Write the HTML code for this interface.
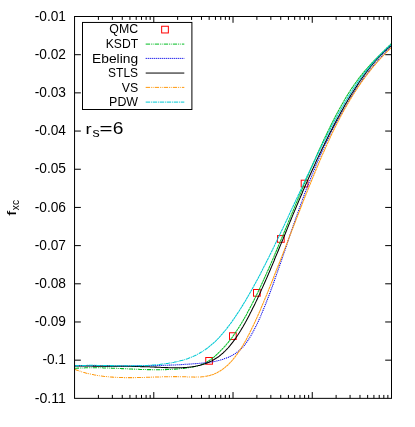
<!DOCTYPE html>
<html><head><meta charset="utf-8"><title>fxc rs=6</title>
<style>
html,body{margin:0;padding:0;background:#fff;}
svg{display:block;will-change:transform;}
text{font-family:"Liberation Sans",sans-serif;fill:#000;}
</style></head><body>
<svg width="415" height="427" viewBox="0 0 415 427">
<rect x="0" y="0" width="415" height="427" fill="#fff"/>
<g stroke="#000" stroke-width="1" fill="none">
<path d="M74.55 54.69h6.3M391.5 54.69h-6.3"/>
<path d="M74.55 92.87h6.3M391.5 92.87h-6.3"/>
<path d="M74.55 131.06h6.3M391.5 131.06h-6.3"/>
<path d="M74.55 169.24h6.3M391.5 169.24h-6.3"/>
<path d="M74.55 207.43h6.3M391.5 207.43h-6.3"/>
<path d="M74.55 245.61h6.3M391.5 245.61h-6.3"/>
<path d="M74.55 283.80h6.3M391.5 283.80h-6.3"/>
<path d="M74.55 321.98h6.3M391.5 321.98h-6.3"/>
<path d="M74.55 360.17h6.3M391.5 360.17h-6.3"/>
<path d="M98.40 398.35v-3.4M98.40 16.5v3.4"/>
<path d="M112.36 398.35v-3.4M112.36 16.5v3.4"/>
<path d="M122.26 398.35v-3.4M122.26 16.5v3.4"/>
<path d="M129.93 398.35v-3.4M129.93 16.5v3.4"/>
<path d="M136.21 398.35v-3.4M136.21 16.5v3.4"/>
<path d="M141.51 398.35v-3.4M141.51 16.5v3.4"/>
<path d="M146.11 398.35v-3.4M146.11 16.5v3.4"/>
<path d="M150.16 398.35v-3.4M150.16 16.5v3.4"/>
<path d="M153.79 398.35v-6.3M153.79 16.5v6.3"/>
<path d="M177.64 398.35v-3.4M177.64 16.5v3.4"/>
<path d="M191.59 398.35v-3.4M191.59 16.5v3.4"/>
<path d="M201.49 398.35v-3.4M201.49 16.5v3.4"/>
<path d="M209.17 398.35v-3.4M209.17 16.5v3.4"/>
<path d="M215.45 398.35v-3.4M215.45 16.5v3.4"/>
<path d="M220.75 398.35v-3.4M220.75 16.5v3.4"/>
<path d="M225.35 398.35v-3.4M225.35 16.5v3.4"/>
<path d="M229.40 398.35v-3.4M229.40 16.5v3.4"/>
<path d="M233.02 398.35v-6.3M233.02 16.5v6.3"/>
<path d="M256.88 398.35v-3.4M256.88 16.5v3.4"/>
<path d="M270.83 398.35v-3.4M270.83 16.5v3.4"/>
<path d="M280.73 398.35v-3.4M280.73 16.5v3.4"/>
<path d="M288.41 398.35v-3.4M288.41 16.5v3.4"/>
<path d="M294.68 398.35v-3.4M294.68 16.5v3.4"/>
<path d="M299.99 398.35v-3.4M299.99 16.5v3.4"/>
<path d="M304.58 398.35v-3.4M304.58 16.5v3.4"/>
<path d="M308.64 398.35v-3.4M308.64 16.5v3.4"/>
<path d="M312.26 398.35v-6.3M312.26 16.5v6.3"/>
<path d="M336.12 398.35v-3.4M336.12 16.5v3.4"/>
<path d="M350.07 398.35v-3.4M350.07 16.5v3.4"/>
<path d="M359.97 398.35v-3.4M359.97 16.5v3.4"/>
<path d="M367.65 398.35v-3.4M367.65 16.5v3.4"/>
<path d="M373.92 398.35v-3.4M373.92 16.5v3.4"/>
<path d="M379.23 398.35v-3.4M379.23 16.5v3.4"/>
<path d="M383.82 398.35v-3.4M383.82 16.5v3.4"/>
<path d="M387.87 398.35v-3.4M387.87 16.5v3.4"/>
</g>
<text x="66.0" y="21" font-size="14" text-anchor="end" textLength="31.3" lengthAdjust="spacingAndGlyphs">-0.01</text>
<text x="66.0" y="59" font-size="14" text-anchor="end" textLength="31.3" lengthAdjust="spacingAndGlyphs">-0.02</text>
<text x="66.0" y="97" font-size="14" text-anchor="end" textLength="31.3" lengthAdjust="spacingAndGlyphs">-0.03</text>
<text x="66.0" y="135" font-size="14" text-anchor="end" textLength="31.3" lengthAdjust="spacingAndGlyphs">-0.04</text>
<text x="66.0" y="173" font-size="14" text-anchor="end" textLength="31.3" lengthAdjust="spacingAndGlyphs">-0.05</text>
<text x="66.0" y="212" font-size="14" text-anchor="end" textLength="31.3" lengthAdjust="spacingAndGlyphs">-0.06</text>
<text x="66.0" y="250" font-size="14" text-anchor="end" textLength="31.3" lengthAdjust="spacingAndGlyphs">-0.07</text>
<text x="66.0" y="288" font-size="14" text-anchor="end" textLength="31.3" lengthAdjust="spacingAndGlyphs">-0.08</text>
<text x="66.0" y="326" font-size="14" text-anchor="end" textLength="31.3" lengthAdjust="spacingAndGlyphs">-0.09</text>
<text x="66.0" y="364" font-size="14" text-anchor="end" textLength="23.6" lengthAdjust="spacingAndGlyphs">-0.1</text>
<text x="66.0" y="403" font-size="14" text-anchor="end" textLength="31.3" lengthAdjust="spacingAndGlyphs">-0.11</text>
<g transform="translate(15.9 215.7) rotate(-90)"><text x="0" y="0" font-size="13.2" textLength="5.0" lengthAdjust="spacingAndGlyphs">f</text><text x="5.5" y="3.1" font-size="11.7" textLength="10.2" lengthAdjust="spacingAndGlyphs">xc</text></g>
<g fill="none" stroke="#ff0000" stroke-width="1">
<rect x="205.75" y="357.50" width="6.7" height="6.7"/>
<rect x="229.50" y="332.75" width="6.7" height="6.7"/>
<rect x="253.50" y="289.50" width="6.7" height="6.7"/>
<rect x="277.50" y="235.60" width="6.7" height="6.7"/>
<rect x="301.20" y="180.20" width="6.7" height="6.7"/>
</g>
<clipPath id="c"><rect x="74.55" y="16.5" width="316.95" height="381.85"/></clipPath>
<g fill="none" stroke-width="1.05" clip-path="url(#c)">
<path d="M74.7 368.3 L75.5 368.3 L76.3 368.2 L77.1 368.2 L77.9 368.1 L78.7 368.1 L79.5 368.0 L80.3 368.0 L81.1 368.0 L81.8 367.9 L82.6 367.9 L83.4 367.9 L84.2 367.9 L85.0 367.8 L85.8 367.8 L86.6 367.8 L87.4 367.8 L88.2 367.8 L89.0 367.8 L89.8 367.7 L90.6 367.7 L91.4 367.7 L92.2 367.7 L93.0 367.7 L93.8 367.7 L94.6 367.7 L95.4 367.7 L96.1 367.7 L96.9 367.8 L97.7 367.8 L98.5 367.8 L99.3 367.8 L100.1 367.8 L100.9 367.8 L101.7 367.8 L102.5 367.8 L103.3 367.9 L104.1 367.9 L104.9 367.9 L105.7 367.9 L106.5 368.0 L107.3 368.0 L108.1 368.0 L108.9 368.0 L109.6 368.1 L110.4 368.1 L111.2 368.1 L112.0 368.2 L112.8 368.2 L113.6 368.2 L114.4 368.2 L115.2 368.3 L116.0 368.3 L116.8 368.3 L117.6 368.4 L118.4 368.4 L119.2 368.5 L120.0 368.5 L120.8 368.5 L121.6 368.6 L122.4 368.6 L123.1 368.6 L123.9 368.7 L124.7 368.7 L125.5 368.7 L126.3 368.8 L127.1 368.8 L127.9 368.9 L128.7 368.9 L129.5 368.9 L130.3 369.0 L131.1 369.0 L131.9 369.0 L132.7 369.1 L133.5 369.1 L134.3 369.1 L135.1 369.2 L135.9 369.2 L136.7 369.2 L137.4 369.3 L138.2 369.3 L139.0 369.3 L139.8 369.4 L140.6 369.4 L141.4 369.4 L142.2 369.4 L143.0 369.5 L143.8 369.5 L144.6 369.5 L145.4 369.5 L146.2 369.6 L147.0 369.6 L147.8 369.6 L148.6 369.6 L149.4 369.6 L150.2 369.6 L150.9 369.6 L151.7 369.7 L152.5 369.7 L153.3 369.7 L154.1 369.7 L154.9 369.7 L155.7 369.7 L156.5 369.7 L157.3 369.7 L158.1 369.7 L158.9 369.7 L159.7 369.7 L160.5 369.7 L161.3 369.7 L162.1 369.7 L162.9 369.6 L163.7 369.6 L164.4 369.6 L165.2 369.6 L166.0 369.6 L166.8 369.5 L167.6 369.5 L168.4 369.5 L169.2 369.4 L170.0 369.4 L170.8 369.4 L171.6 369.3 L172.4 369.3 L173.2 369.2 L174.0 369.2 L174.8 369.1 L175.6 369.1 L176.4 369.0 L177.2 369.0 L178.0 368.9 L178.7 368.8 L179.5 368.8 L180.3 368.7 L181.1 368.6 L181.9 368.5 L182.7 368.5 L183.5 368.4 L184.3 368.3 L185.1 368.2 L185.9 368.1 L186.7 368.0 L187.5 367.9 L188.3 367.8 L189.1 367.7 L189.9 367.5 L190.7 367.4 L191.5 367.3 L192.2 367.1 L193.0 367.0 L193.8 366.8 L194.6 366.6 L195.4 366.4 L196.2 366.2 L197.0 366.0 L197.8 365.8 L198.6 365.5 L199.4 365.3 L200.2 365.0 L201.0 364.7 L201.8 364.4 L202.6 364.1 L203.4 363.7 L204.2 363.4 L205.0 363.0 L205.7 362.6" stroke="#00bc22" stroke-dasharray="4.3 0.9 0.9 0.9 0.9 1.14"/>
<path d="M205.7 362.6 L206.5 362.2 L207.3 361.7 L208.1 361.2 L208.9 360.8 L209.7 360.2 L210.5 359.7 L211.3 359.1 L212.1 358.5 L212.9 357.9 L213.7 357.3 L214.5 356.6 L215.3 355.9 L216.1 355.2 L216.9 354.5 L217.7 353.7 L218.5 352.9 L219.3 352.1 L220.0 351.3 L220.8 350.5 L221.6 349.7 L222.4 348.8 L223.2 348.0 L224.0 347.1 L224.8 346.3 L225.6 345.4 L226.4 344.5 L227.2 343.5 L228.0 342.6 L228.8 341.6 L229.6 340.7 L230.4 339.6 L231.2 338.6 L232.0 337.6 L232.8 336.5 L233.5 335.4 L234.3 334.3 L235.1 333.1 L235.9 331.9 L236.7 330.8 L237.5 329.5 L238.3 328.3 L239.1 327.1 L239.9 325.8 L240.7 324.5 L241.5 323.2 L242.3 321.8 L243.1 320.5 L243.9 319.1 L244.7 317.7 L245.5 316.3 L246.3 314.9 L247.0 313.5 L247.8 312.0 L248.6 310.5 L249.4 309.0 L250.2 307.5 L251.0 306.0 L251.8 304.5 L252.6 302.9 L253.4 301.3 L254.2 299.7 L255.0 298.1 L255.8 296.5 L256.6 294.9 L257.4 293.3 L258.2 291.6 L259.0 289.9 L259.8 288.3 L260.6 286.6 L261.3 284.9 L262.1 283.2 L262.9 281.4 L263.7 279.7 L264.5 277.9 L265.3 276.2 L266.1 274.4 L266.9 272.6 L267.7 270.8 L268.5 269.1 L269.3 267.2 L270.1 265.4 L270.9 263.6 L271.7 261.8 L272.5 259.9 L273.3 258.1 L274.1 256.3 L274.8 254.4 L275.6 252.5 L276.4 250.7 L277.2 248.8 L278.0 246.9 L278.8 245.0 L279.6 243.1 L280.4 241.3 L281.2 239.4 L282.0 237.5 L282.8 235.6 L283.6 233.6 L284.4 231.7 L285.2 229.8 L286.0 227.9 L286.8 226.0 L287.6 224.1 L288.3 222.2 L289.1 220.3 L289.9 218.3 L290.7 216.4 L291.5 214.5 L292.3 212.6 L293.1 210.7 L293.9 208.8 L294.7 206.8 L295.5 204.9 L296.3 203.0 L297.1 201.1 L297.9 199.2 L298.7 197.3 L299.5 195.4 L300.3 193.5 L301.1 191.6 L301.9 189.7 L302.6 187.8 L303.4 186.0 L304.2 184.1 L305.0 182.2 L305.8 180.4 L306.6 178.5 L307.4 176.6 L308.2 174.8 L309.0 172.9 L309.8 171.1 L310.6 169.3 L311.4 167.5 L312.2 165.6 L313.0 163.8 L313.8 162.0 L314.6 160.2 L315.4 158.4 L316.1 156.6 L316.9 154.9 L317.7 153.1 L318.5 151.4 L319.3 149.6 L320.1 147.9 L320.9 146.1 L321.7 144.4 L322.5 142.7 L323.3 141.0 L324.1 139.3 L324.9 137.6 L325.7 135.9 L326.5 134.3 L327.3 132.6 L328.1 131.0 L328.9 129.4 L329.6 127.8 L330.4 126.2 L331.2 124.6 L332.0 123.0 L332.8 121.4 L333.6 119.9 L334.4 118.3 L335.2 116.8 L336.0 115.3 L336.8 113.8 L337.6 112.3 L338.4 110.8 L339.2 109.3 L340.0 107.9 L340.8 106.5 L341.6 105.1 L342.4 103.7 L343.2 102.3 L343.9 100.9 L344.7 99.5 L345.5 98.2 L346.3 96.9 L347.1 95.6 L347.9 94.3 L348.7 93.0 L349.5 91.8 L350.3 90.5 L351.1 89.3 L351.9 88.1 L352.7 86.9 L353.5 85.8 L354.3 84.6 L355.1 83.5 L355.9 82.4 L356.7 81.3 L357.4 80.2 L358.2 79.2 L359.0 78.1 L359.8 77.1 L360.6 76.1 L361.4 75.1 L362.2 74.1 L363.0 73.1 L363.8 72.2 L364.6 71.2 L365.4 70.3 L366.2 69.4 L367.0 68.5 L367.8 67.6 L368.6 66.7 L369.4 65.8 L370.2 64.9 L370.9 64.1 L371.7 63.2 L372.5 62.4 L373.3 61.6 L374.1 60.7 L374.9 59.9 L375.7 59.1 L376.5 58.3 L377.3 57.5 L378.1 56.7 L378.9 55.9 L379.7 55.1 L380.5 54.3 L381.3 53.5 L382.1 52.7 L382.9 52.0 L383.7 51.2 L384.5 50.4 L385.2 49.6 L386.0 48.8 L386.8 48.0 L387.6 47.3 L388.4 46.5 L389.2 45.7 L390.0 44.9 L390.8 44.1 L391.6 43.3" stroke="#00bc22" stroke-dasharray="2.6 0.35"/>
<path d="M74.7 365.8 L75.5 365.8 L76.3 365.8 L77.1 365.8 L77.9 365.8 L78.7 365.8 L79.5 365.8 L80.3 365.8 L81.1 365.8 L81.8 365.8 L82.6 365.8 L83.4 365.8 L84.2 365.8 L85.0 365.8 L85.8 365.8 L86.6 365.8 L87.4 365.8 L88.2 365.8 L89.0 365.8 L89.8 365.8 L90.6 365.8 L91.4 365.8 L92.2 365.8 L93.0 365.8 L93.8 365.8 L94.6 365.8 L95.4 365.8 L96.1 365.8 L96.9 365.8 L97.7 365.8 L98.5 365.8 L99.3 365.8 L100.1 365.8 L100.9 365.8 L101.7 365.8 L102.5 365.8 L103.3 365.8 L104.1 365.8 L104.9 365.9 L105.7 365.9 L106.5 365.9 L107.3 365.9 L108.1 365.9 L108.9 365.9 L109.6 365.9 L110.4 365.9 L111.2 365.9 L112.0 365.9 L112.8 365.9 L113.6 365.9 L114.4 365.9 L115.2 365.9 L116.0 365.9 L116.8 365.9 L117.6 365.9 L118.4 365.9 L119.2 365.9 L120.0 365.9 L120.8 365.9 L121.6 365.9 L122.4 365.9 L123.1 365.9 L123.9 365.9 L124.7 365.9 L125.5 365.9 L126.3 365.9 L127.1 365.9 L127.9 365.9 L128.7 365.9 L129.5 365.9 L130.3 365.9 L131.1 365.9 L131.9 365.9 L132.7 365.9 L133.5 365.9 L134.3 365.9 L135.1 365.9 L135.9 365.8 L136.7 365.8 L137.4 365.8 L138.2 365.8 L139.0 365.8 L139.8 365.8 L140.6 365.8 L141.4 365.8 L142.2 365.8 L143.0 365.8 L143.8 365.8 L144.6 365.8 L145.4 365.7 L146.2 365.7 L147.0 365.7 L147.8 365.7 L148.6 365.7 L149.4 365.7 L150.2 365.7 L150.9 365.7 L151.7 365.6 L152.5 365.6 L153.3 365.6 L154.1 365.6 L154.9 365.6 L155.7 365.6 L156.5 365.5 L157.3 365.5 L158.1 365.5 L158.9 365.5 L159.7 365.5 L160.5 365.4 L161.3 365.4 L162.1 365.4 L162.9 365.4 L163.7 365.3 L164.4 365.3 L165.2 365.3 L166.0 365.3 L166.8 365.2 L167.6 365.2 L168.4 365.2 L169.2 365.1 L170.0 365.1 L170.8 365.1 L171.6 365.0 L172.4 365.0 L173.2 365.0 L174.0 364.9 L174.8 364.9 L175.6 364.9 L176.4 364.8 L177.2 364.8 L178.0 364.7 L178.7 364.7 L179.5 364.7 L180.3 364.6 L181.1 364.6 L181.9 364.5 L182.7 364.5 L183.5 364.4 L184.3 364.4 L185.1 364.3 L185.9 364.3 L186.7 364.2 L187.5 364.2 L188.3 364.1 L189.1 364.1 L189.9 364.0 L190.7 364.0 L191.5 363.9 L192.2 363.9 L193.0 363.8 L193.8 363.7 L194.6 363.7 L195.4 363.6 L196.2 363.6 L197.0 363.5 L197.8 363.4 L198.6 363.4 L199.4 363.3 L200.2 363.2 L201.0 363.2 L201.8 363.1 L202.6 363.0 L203.4 362.9 L204.2 362.9 L205.0 362.8 L205.7 362.7 L206.5 362.6 L207.3 362.5 L208.1 362.4 L208.9 362.3 L209.7 362.2 L210.5 362.1 L211.3 362.0 L212.1 361.8 L212.9 361.7 L213.7 361.6 L214.5 361.4 L215.3 361.3 L216.1 361.1 L216.9 360.9 L217.7 360.7 L218.5 360.5 L219.3 360.3 L220.0 360.1 L220.8 359.9 L221.6 359.7 L222.4 359.4 L223.2 359.2 L224.0 358.9 L224.8 358.6 L225.6 358.3 L226.4 358.0 L227.2 357.7 L228.0 357.4 L228.8 357.0 L229.6 356.7 L230.4 356.3 L231.2 355.9 L232.0 355.5 L232.8 355.0 L233.5 354.6 L234.3 354.1 L235.1 353.6 L235.9 353.1 L236.7 352.5 L237.5 351.9 L238.3 351.3 L239.1 350.6 L239.9 350.0 L240.7 349.2 L241.5 348.4 L242.3 347.6 L243.1 346.8 L243.9 345.9 L244.7 344.9 L245.5 343.9 L246.3 342.8 L247.0 341.7 L247.8 340.6 L248.6 339.4 L249.4 338.1 L250.2 336.8 L251.0 335.5 L251.8 334.1 L252.6 332.7 L253.4 331.2 L254.2 329.7 L255.0 328.1 L255.8 326.6 L256.6 324.9 L257.4 323.3 L258.2 321.6 L259.0 319.8 L259.8 318.1 L260.6 316.3 L261.3 314.4 L262.1 312.6 L262.9 310.7 L263.7 308.8 L264.5 306.8 L265.3 304.8 L266.1 302.8 L266.9 300.8 L267.7 298.7 L268.5 296.7 L269.3 294.6 L270.1 292.4 L270.9 290.3 L271.7 288.1 L272.5 286.0 L273.3 283.8 L274.1 281.6 L274.8 279.3 L275.6 277.1 L276.4 274.8 L277.2 272.6 L278.0 270.3 L278.8 268.0 L279.6 265.7 L280.4 263.4 L281.2 261.1 L282.0 258.8 L282.8 256.4 L283.6 254.1 L284.4 251.8 L285.2 249.4 L286.0 247.1 L286.8 244.7 L287.6 242.4 L288.3 240.1 L289.1 237.7 L289.9 235.4 L290.7 233.0 L291.5 230.7 L292.3 228.4 L293.1 226.1 L293.9 223.8 L294.7 221.5 L295.5 219.2 L296.3 216.9 L297.1 214.7 L297.9 212.4 L298.7 210.2 L299.5 207.9 L300.3 205.7 L301.1 203.5 L301.9 201.4 L302.6 199.2 L303.4 197.1 L304.2 194.9 L305.0 192.8 L305.8 190.7 L306.6 188.7 L307.4 186.6 L308.2 184.6 L309.0 182.6 L309.8 180.6 L310.6 178.6 L311.4 176.6 L312.2 174.6 L313.0 172.7 L313.8 170.8 L314.6 168.9 L315.4 167.0 L316.1 165.1 L316.9 163.2 L317.7 161.4 L318.5 159.5 L319.3 157.7 L320.1 155.9 L320.9 154.1 L321.7 152.4 L322.5 150.6 L323.3 148.9 L324.1 147.2 L324.9 145.4 L325.7 143.7 L326.5 142.1 L327.3 140.4 L328.1 138.7 L328.9 137.1 L329.6 135.5 L330.4 133.9 L331.2 132.3 L332.0 130.7 L332.8 129.1 L333.6 127.6 L334.4 126.0 L335.2 124.5 L336.0 123.0 L336.8 121.5 L337.6 120.0 L338.4 118.5 L339.2 117.1 L340.0 115.6 L340.8 114.2 L341.6 112.8 L342.4 111.4 L343.2 110.0 L343.9 108.6 L344.7 107.2 L345.5 105.9 L346.3 104.6 L347.1 103.2 L347.9 101.9 L348.7 100.6 L349.5 99.3 L350.3 98.0 L351.1 96.8 L351.9 95.5 L352.7 94.3 L353.5 93.0 L354.3 91.8 L355.1 90.6 L355.9 89.4 L356.7 88.2 L357.4 87.0 L358.2 85.9 L359.0 84.7 L359.8 83.6 L360.6 82.4 L361.4 81.3 L362.2 80.2 L363.0 79.1 L363.8 78.0 L364.6 76.9 L365.4 75.9 L366.2 74.8 L367.0 73.8 L367.8 72.7 L368.6 71.7 L369.4 70.7 L370.2 69.7 L370.9 68.7 L371.7 67.7 L372.5 66.7 L373.3 65.8 L374.1 64.8 L374.9 63.9 L375.7 62.9 L376.5 62.0 L377.3 61.1 L378.1 60.2 L378.9 59.3 L379.7 58.4 L380.5 57.5 L381.3 56.6 L382.1 55.8 L382.9 54.9 L383.7 54.0 L384.5 53.2 L385.2 52.4 L386.0 51.6 L386.8 50.7 L387.6 49.9 L388.4 49.1 L389.2 48.3 L390.0 47.6 L390.8 46.8 L391.6 46.0" stroke="#0000e8" stroke-dasharray="1.15 0.85"/>
<path d="M74.7 365.9 L75.5 365.9 L76.3 365.9 L77.1 365.9 L77.9 365.9 L78.7 365.9 L79.5 366.0 L80.3 366.0 L81.1 366.0 L81.8 366.0 L82.6 366.0 L83.4 366.0 L84.2 366.0 L85.0 366.0 L85.8 366.0 L86.6 366.0 L87.4 366.0 L88.2 366.0 L89.0 366.0 L89.8 366.0 L90.6 366.0 L91.4 366.0 L92.2 366.0 L93.0 366.1 L93.8 366.1 L94.6 366.1 L95.4 366.1 L96.1 366.1 L96.9 366.1 L97.7 366.1 L98.5 366.1 L99.3 366.1 L100.1 366.1 L100.9 366.1 L101.7 366.1 L102.5 366.1 L103.3 366.1 L104.1 366.1 L104.9 366.1 L105.7 366.1 L106.5 366.1 L107.3 366.1 L108.1 366.1 L108.9 366.1 L109.6 366.1 L110.4 366.1 L111.2 366.1 L112.0 366.1 L112.8 366.1 L113.6 366.1 L114.4 366.2 L115.2 366.2 L116.0 366.2 L116.8 366.2 L117.6 366.2 L118.4 366.2 L119.2 366.2 L120.0 366.2 L120.8 366.2 L121.6 366.2 L122.4 366.2 L123.1 366.2 L123.9 366.2 L124.7 366.2 L125.5 366.3 L126.3 366.3 L127.1 366.3 L127.9 366.3 L128.7 366.3 L129.5 366.3 L130.3 366.3 L131.1 366.3 L131.9 366.4 L132.7 366.4 L133.5 366.4 L134.3 366.4 L135.1 366.4 L135.9 366.4 L136.7 366.5 L137.4 366.5 L138.2 366.5 L139.0 366.5 L139.8 366.5 L140.6 366.6 L141.4 366.6 L142.2 366.6 L143.0 366.6 L143.8 366.6 L144.6 366.7 L145.4 366.7 L146.2 366.7 L147.0 366.7 L147.8 366.8 L148.6 366.8 L149.4 366.8 L150.2 366.9 L150.9 366.9 L151.7 366.9 L152.5 367.0 L153.3 367.0 L154.1 367.0 L154.9 367.1 L155.7 367.1 L156.5 367.1 L157.3 367.2 L158.1 367.2 L158.9 367.3 L159.7 367.3 L160.5 367.3 L161.3 367.4 L162.1 367.4 L162.9 367.4 L163.7 367.5 L164.4 367.5 L165.2 367.6 L166.0 367.6 L166.8 367.6 L167.6 367.6 L168.4 367.7 L169.2 367.7 L170.0 367.7 L170.8 367.7 L171.6 367.8 L172.4 367.8 L173.2 367.8 L174.0 367.8 L174.8 367.8 L175.6 367.8 L176.4 367.8 L177.2 367.8 L178.0 367.8 L178.7 367.8 L179.5 367.8 L180.3 367.8 L181.1 367.7 L181.9 367.7 L182.7 367.7 L183.5 367.6 L184.3 367.6 L185.1 367.5 L185.9 367.5 L186.7 367.4 L187.5 367.3 L188.3 367.3 L189.1 367.2 L189.9 367.1 L190.7 367.0 L191.5 366.9 L192.2 366.8 L193.0 366.7 L193.8 366.5 L194.6 366.4 L195.4 366.3 L196.2 366.1 L197.0 365.9 L197.8 365.8 L198.6 365.6 L199.4 365.4 L200.2 365.2 L201.0 365.0 L201.8 364.8 L202.6 364.6 L203.4 364.3 L204.2 364.1 L205.0 363.8 L205.7 363.5 L206.5 363.2 L207.3 362.9 L208.1 362.6 L208.9 362.2 L209.7 361.8 L210.5 361.5 L211.3 361.1 L212.1 360.7 L212.9 360.2 L213.7 359.8 L214.5 359.3 L215.3 358.8 L216.1 358.3 L216.9 357.8 L217.7 357.2 L218.5 356.7 L219.3 356.1 L220.0 355.5 L220.8 354.8 L221.6 354.2 L222.4 353.5 L223.2 352.8 L224.0 352.0 L224.8 351.3 L225.6 350.5 L226.4 349.7 L227.2 348.8 L228.0 348.0 L228.8 347.1 L229.6 346.2 L230.4 345.2 L231.2 344.2 L232.0 343.2 L232.8 342.2 L233.5 341.1 L234.3 340.1 L235.1 338.9 L235.9 337.8 L236.7 336.6 L237.5 335.5 L238.3 334.2 L239.1 333.0 L239.9 331.7 L240.7 330.5 L241.5 329.1 L242.3 327.8 L243.1 326.5 L243.9 325.1 L244.7 323.7 L245.5 322.3 L246.3 320.8 L247.0 319.4 L247.8 317.9 L248.6 316.4 L249.4 314.9 L250.2 313.3 L251.0 311.8 L251.8 310.2 L252.6 308.6 L253.4 307.0 L254.2 305.4 L255.0 303.8 L255.8 302.1 L256.6 300.4 L257.4 298.8 L258.2 297.1 L259.0 295.4 L259.8 293.6 L260.6 291.9 L261.3 290.1 L262.1 288.4 L262.9 286.6 L263.7 284.8 L264.5 283.0 L265.3 281.2 L266.1 279.4 L266.9 277.6 L267.7 275.7 L268.5 273.9 L269.3 272.0 L270.1 270.2 L270.9 268.3 L271.7 266.4 L272.5 264.5 L273.3 262.6 L274.1 260.7 L274.8 258.8 L275.6 256.9 L276.4 255.0 L277.2 253.1 L278.0 251.2 L278.8 249.2 L279.6 247.3 L280.4 245.4 L281.2 243.4 L282.0 241.5 L282.8 239.6 L283.6 237.6 L284.4 235.7 L285.2 233.8 L286.0 231.8 L286.8 229.9 L287.6 227.9 L288.3 226.0 L289.1 224.1 L289.9 222.1 L290.7 220.2 L291.5 218.3 L292.3 216.4 L293.1 214.4 L293.9 212.5 L294.7 210.6 L295.5 208.7 L296.3 206.8 L297.1 204.9 L297.9 203.0 L298.7 201.1 L299.5 199.3 L300.3 197.4 L301.1 195.5 L301.9 193.7 L302.6 191.8 L303.4 190.0 L304.2 188.2 L305.0 186.3 L305.8 184.5 L306.6 182.7 L307.4 180.9 L308.2 179.1 L309.0 177.3 L309.8 175.5 L310.6 173.7 L311.4 172.0 L312.2 170.2 L313.0 168.5 L313.8 166.7 L314.6 165.0 L315.4 163.2 L316.1 161.5 L316.9 159.8 L317.7 158.1 L318.5 156.4 L319.3 154.7 L320.1 153.0 L320.9 151.4 L321.7 149.7 L322.5 148.0 L323.3 146.4 L324.1 144.8 L324.9 143.1 L325.7 141.5 L326.5 139.9 L327.3 138.3 L328.1 136.7 L328.9 135.1 L329.6 133.6 L330.4 132.0 L331.2 130.4 L332.0 128.9 L332.8 127.3 L333.6 125.8 L334.4 124.3 L335.2 122.8 L336.0 121.3 L336.8 119.8 L337.6 118.3 L338.4 116.9 L339.2 115.4 L340.0 114.0 L340.8 112.5 L341.6 111.1 L342.4 109.7 L343.2 108.3 L343.9 106.9 L344.7 105.5 L345.5 104.1 L346.3 102.8 L347.1 101.4 L347.9 100.1 L348.7 98.7 L349.5 97.4 L350.3 96.1 L351.1 94.8 L351.9 93.5 L352.7 92.3 L353.5 91.0 L354.3 89.7 L355.1 88.5 L355.9 87.3 L356.7 86.1 L357.4 84.9 L358.2 83.7 L359.0 82.5 L359.8 81.3 L360.6 80.2 L361.4 79.0 L362.2 77.9 L363.0 76.8 L363.8 75.6 L364.6 74.6 L365.4 73.5 L366.2 72.4 L367.0 71.3 L367.8 70.3 L368.6 69.3 L369.4 68.2 L370.2 67.2 L370.9 66.2 L371.7 65.3 L372.5 64.3 L373.3 63.3 L374.1 62.4 L374.9 61.5 L375.7 60.6 L376.5 59.7 L377.3 58.8 L378.1 57.9 L378.9 57.1 L379.7 56.2 L380.5 55.4 L381.3 54.6 L382.1 53.8 L382.9 53.0 L383.7 52.2 L384.5 51.4 L385.2 50.7 L386.0 50.0 L386.8 49.2 L387.6 48.5 L388.4 47.8 L389.2 47.2 L390.0 46.5 L390.8 45.9 L391.6 45.2" stroke="#000000"/>
<path d="M74.7 369.3 L75.5 369.6 L76.3 369.9 L77.1 370.2 L77.9 370.5 L78.7 370.8 L79.5 371.0 L80.3 371.3 L81.1 371.6 L81.8 371.8 L82.6 372.0 L83.4 372.3 L84.2 372.5 L85.0 372.7 L85.8 373.0 L86.6 373.2 L87.4 373.4 L88.2 373.6 L89.0 373.8 L89.8 373.9 L90.6 374.1 L91.4 374.3 L92.2 374.5 L93.0 374.6 L93.8 374.8 L94.6 374.9 L95.4 375.1 L96.1 375.2 L96.9 375.4 L97.7 375.5 L98.5 375.6 L99.3 375.7 L100.1 375.9 L100.9 376.0 L101.7 376.1 L102.5 376.2 L103.3 376.3 L104.1 376.4 L104.9 376.5 L105.7 376.5 L106.5 376.6 L107.3 376.7 L108.1 376.8 L108.9 376.8 L109.6 376.9 L110.4 377.0 L111.2 377.0 L112.0 377.1 L112.8 377.1 L113.6 377.2 L114.4 377.2 L115.2 377.3 L116.0 377.3 L116.8 377.3 L117.6 377.4 L118.4 377.4 L119.2 377.4 L120.0 377.5 L120.8 377.5 L121.6 377.5 L122.4 377.5 L123.1 377.5 L123.9 377.6 L124.7 377.6 L125.5 377.6 L126.3 377.6 L127.1 377.6 L127.9 377.6 L128.7 377.6 L129.5 377.6 L130.3 377.6 L131.1 377.6 L131.9 377.6 L132.7 377.6 L133.5 377.6 L134.3 377.6 L135.1 377.6 L135.9 377.5 L136.7 377.5 L137.4 377.5 L138.2 377.5 L139.0 377.5 L139.8 377.5 L140.6 377.5 L141.4 377.4 L142.2 377.4 L143.0 377.4 L143.8 377.4 L144.6 377.4 L145.4 377.3 L146.2 377.3 L147.0 377.3 L147.8 377.3 L148.6 377.2 L149.4 377.2 L150.2 377.2 L150.9 377.2 L151.7 377.1 L152.5 377.1 L153.3 377.1 L154.1 377.1 L154.9 377.0 L155.7 377.0 L156.5 377.0 L157.3 377.0 L158.1 376.9 L158.9 376.9 L159.7 376.9 L160.5 376.9 L161.3 376.9 L162.1 376.8 L162.9 376.8 L163.7 376.8 L164.4 376.8 L165.2 376.8 L166.0 376.7 L166.8 376.7 L167.6 376.7 L168.4 376.7 L169.2 376.7 L170.0 376.7 L170.8 376.7 L171.6 376.7 L172.4 376.7 L173.2 376.6 L174.0 376.6 L174.8 376.6 L175.6 376.6 L176.4 376.6 L177.2 376.6 L178.0 376.6 L178.7 376.7 L179.5 376.7 L180.3 376.7 L181.1 376.7 L181.9 376.7 L182.7 376.7 L183.5 376.7 L184.3 376.8 L185.1 376.8 L185.9 376.8 L186.7 376.8 L187.5 376.9 L188.3 376.9 L189.1 376.9 L189.9 376.9 L190.7 377.0 L191.5 377.0 L192.2 377.0 L193.0 377.0 L193.8 377.0 L194.6 377.1 L195.4 377.1 L196.2 377.1 L197.0 377.0 L197.8 377.0 L198.6 377.0 L199.4 377.0 L200.2 376.9 L201.0 376.9 L201.8 376.8 L202.6 376.7 L203.4 376.7 L204.2 376.6 L205.0 376.4 L205.7 376.3" stroke="#ff9a10" stroke-dasharray="4.3 0.9 0.9 0.9 0.9 1.14"/>
<path d="M205.7 376.3 L206.5 376.2 L207.3 376.0 L208.1 375.8 L208.9 375.7 L209.7 375.5 L210.5 375.2 L211.3 375.0 L212.1 374.7 L212.9 374.5 L213.7 374.2 L214.5 373.8 L215.3 373.5 L216.1 373.1 L216.9 372.7 L217.7 372.3 L218.5 371.9 L219.3 371.4 L220.0 371.0 L220.8 370.5 L221.6 369.9 L222.4 369.4 L223.2 368.8 L224.0 368.2 L224.8 367.6 L225.6 366.9 L226.4 366.2 L227.2 365.5 L228.0 364.8 L228.8 364.0 L229.6 363.2 L230.4 362.4 L231.2 361.5 L232.0 360.7 L232.8 359.7 L233.5 358.8 L234.3 357.8 L235.1 356.8 L235.9 355.8 L236.7 354.7 L237.5 353.6 L238.3 352.5 L239.1 351.3 L239.9 350.2 L240.7 348.9 L241.5 347.7 L242.3 346.4 L243.1 345.1 L243.9 343.7 L244.7 342.3 L245.5 340.9 L246.3 339.5 L247.0 338.0 L247.8 336.5 L248.6 335.0 L249.4 333.4 L250.2 331.8 L251.0 330.2 L251.8 328.6 L252.6 327.0 L253.4 325.3 L254.2 323.6 L255.0 321.9 L255.8 320.1 L256.6 318.4 L257.4 316.6 L258.2 314.8 L259.0 313.0 L259.8 311.2 L260.6 309.4 L261.3 307.5 L262.1 305.6 L262.9 303.8 L263.7 301.9 L264.5 299.9 L265.3 298.0 L266.1 296.1 L266.9 294.2 L267.7 292.2 L268.5 290.2 L269.3 288.3 L270.1 286.3 L270.9 284.3 L271.7 282.3 L272.5 280.3 L273.3 278.3 L274.1 276.3 L274.8 274.3 L275.6 272.3 L276.4 270.3 L277.2 268.3 L278.0 266.2 L278.8 264.2 L279.6 262.2 L280.4 260.1 L281.2 258.1 L282.0 256.1 L282.8 254.0 L283.6 252.0 L284.4 249.9 L285.2 247.9 L286.0 245.8 L286.8 243.8 L287.6 241.7 L288.3 239.6 L289.1 237.6 L289.9 235.5 L290.7 233.5 L291.5 231.4 L292.3 229.4 L293.1 227.3 L293.9 225.3 L294.7 223.2 L295.5 221.2 L296.3 219.1 L297.1 217.1 L297.9 215.0 L298.7 213.0 L299.5 211.0 L300.3 208.9 L301.1 206.9 L301.9 204.9 L302.6 202.9 L303.4 200.9 L304.2 198.8 L305.0 196.8 L305.8 194.8 L306.6 192.9 L307.4 190.9 L308.2 188.9 L309.0 186.9 L309.8 184.9 L310.6 183.0 L311.4 181.0 L312.2 179.1 L313.0 177.1 L313.8 175.2 L314.6 173.3 L315.4 171.4 L316.1 169.5 L316.9 167.6 L317.7 165.7 L318.5 163.8 L319.3 161.9 L320.1 160.1 L320.9 158.2 L321.7 156.4 L322.5 154.6 L323.3 152.8 L324.1 151.0 L324.9 149.2 L325.7 147.4 L326.5 145.6 L327.3 143.9 L328.1 142.1 L328.9 140.4 L329.6 138.7 L330.4 137.0 L331.2 135.3 L332.0 133.6 L332.8 132.0 L333.6 130.3 L334.4 128.7 L335.2 127.1 L336.0 125.5 L336.8 123.9 L337.6 122.4 L338.4 120.8 L339.2 119.3 L340.0 117.8 L340.8 116.3 L341.6 114.8 L342.4 113.3 L343.2 111.8 L343.9 110.4 L344.7 109.0 L345.5 107.6 L346.3 106.2 L347.1 104.8 L347.9 103.4 L348.7 102.1 L349.5 100.7 L350.3 99.4 L351.1 98.1 L351.9 96.8 L352.7 95.5 L353.5 94.2 L354.3 93.0 L355.1 91.7 L355.9 90.5 L356.7 89.3 L357.4 88.1 L358.2 86.9 L359.0 85.7 L359.8 84.6 L360.6 83.4 L361.4 82.3 L362.2 81.2 L363.0 80.1 L363.8 79.0 L364.6 77.9 L365.4 76.8 L366.2 75.7 L367.0 74.7 L367.8 73.6 L368.6 72.6 L369.4 71.6 L370.2 70.6 L370.9 69.6 L371.7 68.6 L372.5 67.6 L373.3 66.7 L374.1 65.7 L374.9 64.8 L375.7 63.9 L376.5 62.9 L377.3 62.0 L378.1 61.1 L378.9 60.3 L379.7 59.4 L380.5 58.5 L381.3 57.7 L382.1 56.8 L382.9 56.0 L383.7 55.2 L384.5 54.3 L385.2 53.5 L386.0 52.7 L386.8 51.9 L387.6 51.2 L388.4 50.4 L389.2 49.6 L390.0 48.9 L390.8 48.1 L391.6 47.4" stroke="#ff9a10" stroke-dasharray="2.6 0.35"/>
<path d="M74.7 365.7 L75.5 365.7 L76.3 365.6 L77.1 365.6 L77.9 365.6 L78.7 365.5 L79.5 365.5 L80.3 365.5 L81.1 365.5 L81.8 365.4 L82.6 365.4 L83.4 365.4 L84.2 365.4 L85.0 365.4 L85.8 365.4 L86.6 365.4 L87.4 365.3 L88.2 365.3 L89.0 365.3 L89.8 365.3 L90.6 365.3 L91.4 365.3 L92.2 365.3 L93.0 365.3 L93.8 365.3 L94.6 365.3 L95.4 365.3 L96.1 365.3 L96.9 365.4 L97.7 365.4 L98.5 365.4 L99.3 365.4 L100.1 365.4 L100.9 365.4 L101.7 365.4 L102.5 365.4 L103.3 365.4 L104.1 365.4 L104.9 365.5 L105.7 365.5 L106.5 365.5 L107.3 365.5 L108.1 365.5 L108.9 365.5 L109.6 365.5 L110.4 365.6 L111.2 365.6 L112.0 365.6 L112.8 365.6 L113.6 365.6 L114.4 365.6 L115.2 365.6 L116.0 365.7 L116.8 365.7 L117.6 365.7 L118.4 365.7 L119.2 365.7 L120.0 365.7 L120.8 365.7 L121.6 365.7 L122.4 365.8 L123.1 365.8 L123.9 365.8 L124.7 365.8 L125.5 365.8 L126.3 365.8 L127.1 365.8 L127.9 365.8 L128.7 365.8 L129.5 365.8 L130.3 365.8 L131.1 365.8 L131.9 365.8 L132.7 365.8 L133.5 365.8 L134.3 365.8 L135.1 365.8 L135.9 365.8 L136.7 365.7 L137.4 365.7 L138.2 365.7 L139.0 365.7 L139.8 365.7 L140.6 365.7 L141.4 365.6 L142.2 365.6 L143.0 365.6 L143.8 365.5 L144.6 365.5 L145.4 365.5 L146.2 365.4 L147.0 365.4 L147.8 365.4 L148.6 365.3 L149.4 365.3 L150.2 365.2 L150.9 365.2 L151.7 365.1 L152.5 365.1 L153.3 365.0 L154.1 364.9 L154.9 364.9 L155.7 364.8 L156.5 364.7 L157.3 364.7 L158.1 364.6 L158.9 364.5 L159.7 364.4 L160.5 364.3 L161.3 364.2 L162.1 364.1 L162.9 364.0 L163.7 363.9 L164.4 363.8 L165.2 363.7 L166.0 363.6 L166.8 363.5 L167.6 363.4 L168.4 363.3 L169.2 363.1 L170.0 363.0 L170.8 362.9 L171.6 362.7 L172.4 362.6 L173.2 362.4 L174.0 362.3 L174.8 362.1 L175.6 362.0 L176.4 361.8 L177.2 361.6 L178.0 361.4 L178.7 361.2 L179.5 361.0 L180.3 360.8 L181.1 360.6 L181.9 360.4 L182.7 360.2 L183.5 360.0 L184.3 359.7 L185.1 359.5 L185.9 359.2 L186.7 358.9 L187.5 358.7 L188.3 358.4 L189.1 358.1 L189.9 357.8 L190.7 357.5 L191.5 357.1 L192.2 356.8 L193.0 356.5 L193.8 356.1 L194.6 355.7 L195.4 355.4 L196.2 355.0 L197.0 354.6 L197.8 354.1 L198.6 353.7 L199.4 353.3 L200.2 352.8 L201.0 352.3 L201.8 351.9 L202.6 351.4 L203.4 350.9 L204.2 350.3 L205.0 349.8 L205.7 349.2" stroke="#00c8d4" stroke-dasharray="4.4 0.8 1.0 0.8"/>
<path d="M205.7 349.2 L206.5 348.7 L207.3 348.1 L208.1 347.5 L208.9 346.9 L209.7 346.2 L210.5 345.6 L211.3 344.9 L212.1 344.2 L212.9 343.5 L213.7 342.8 L214.5 342.1 L215.3 341.3 L216.1 340.6 L216.9 339.8 L217.7 339.0 L218.5 338.2 L219.3 337.3 L220.0 336.5 L220.8 335.6 L221.6 334.7 L222.4 333.8 L223.2 332.8 L224.0 331.9 L224.8 330.9 L225.6 330.0 L226.4 329.0 L227.2 327.9 L228.0 326.9 L228.8 325.9 L229.6 324.8 L230.4 323.7 L231.2 322.7 L232.0 321.6 L232.8 320.4 L233.5 319.3 L234.3 318.2 L235.1 317.0 L235.9 315.8 L236.7 314.6 L237.5 313.4 L238.3 312.2 L239.1 311.0 L239.9 309.7 L240.7 308.5 L241.5 307.2 L242.3 305.9 L243.1 304.6 L243.9 303.3 L244.7 302.0 L245.5 300.7 L246.3 299.4 L247.0 298.0 L247.8 296.6 L248.6 295.3 L249.4 293.9 L250.2 292.5 L251.0 291.1 L251.8 289.7 L252.6 288.2 L253.4 286.8 L254.2 285.3 L255.0 283.9 L255.8 282.4 L256.6 280.9 L257.4 279.5 L258.2 278.0 L259.0 276.5 L259.8 275.0 L260.6 273.4 L261.3 271.9 L262.1 270.4 L262.9 268.8 L263.7 267.3 L264.5 265.7 L265.3 264.2 L266.1 262.6 L266.9 261.0 L267.7 259.4 L268.5 257.8 L269.3 256.2 L270.1 254.6 L270.9 253.0 L271.7 251.4 L272.5 249.8 L273.3 248.1 L274.1 246.5 L274.8 244.9 L275.6 243.2 L276.4 241.6 L277.2 239.9 L278.0 238.3 L278.8 236.6 L279.6 235.0 L280.4 233.3 L281.2 231.6 L282.0 229.9 L282.8 228.3 L283.6 226.6 L284.4 224.9 L285.2 223.2 L286.0 221.5 L286.8 219.8 L287.6 218.1 L288.3 216.4 L289.1 214.7 L289.9 213.0 L290.7 211.3 L291.5 209.6 L292.3 207.9 L293.1 206.2 L293.9 204.5 L294.7 202.8 L295.5 201.1 L296.3 199.4 L297.1 197.7 L297.9 196.0 L298.7 194.3 L299.5 192.6 L300.3 190.9 L301.1 189.2 L301.9 187.5 L302.6 185.8 L303.4 184.1 L304.2 182.4 L305.0 180.7 L305.8 179.0 L306.6 177.3 L307.4 175.6 L308.2 174.0 L309.0 172.3 L309.8 170.6 L310.6 168.9 L311.4 167.3 L312.2 165.6 L313.0 163.9 L313.8 162.3 L314.6 160.6 L315.4 159.0 L316.1 157.3 L316.9 155.7 L317.7 154.0 L318.5 152.4 L319.3 150.8 L320.1 149.2 L320.9 147.5 L321.7 145.9 L322.5 144.3 L323.3 142.7 L324.1 141.1 L324.9 139.6 L325.7 138.0 L326.5 136.4 L327.3 134.9 L328.1 133.3 L328.9 131.7 L329.6 130.2 L330.4 128.7 L331.2 127.2 L332.0 125.6 L332.8 124.1 L333.6 122.6 L334.4 121.1 L335.2 119.7 L336.0 118.2 L336.8 116.7 L337.6 115.3 L338.4 113.8 L339.2 112.4 L340.0 111.0 L340.8 109.6 L341.6 108.2 L342.4 106.8 L343.2 105.4 L343.9 104.0 L344.7 102.7 L345.5 101.3 L346.3 100.0 L347.1 98.7 L347.9 97.4 L348.7 96.1 L349.5 94.8 L350.3 93.5 L351.1 92.2 L351.9 91.0 L352.7 89.8 L353.5 88.5 L354.3 87.3 L355.1 86.1 L355.9 85.0 L356.7 83.8 L357.4 82.6 L358.2 81.5 L359.0 80.4 L359.8 79.3 L360.6 78.2 L361.4 77.1 L362.2 76.0 L363.0 75.0 L363.8 73.9 L364.6 72.9 L365.4 71.9 L366.2 70.9 L367.0 69.9 L367.8 68.9 L368.6 67.9 L369.4 66.9 L370.2 66.0 L370.9 65.1 L371.7 64.1 L372.5 63.2 L373.3 62.3 L374.1 61.4 L374.9 60.5 L375.7 59.7 L376.5 58.8 L377.3 57.9 L378.1 57.1 L378.9 56.3 L379.7 55.4 L380.5 54.6 L381.3 53.8 L382.1 53.0 L382.9 52.2 L383.7 51.5 L384.5 50.7 L385.2 49.9 L386.0 49.2 L386.8 48.4 L387.6 47.7 L388.4 47.0 L389.2 46.2 L390.0 45.5 L390.8 44.8 L391.6 44.1" stroke="#00c8d4" stroke-dasharray="2.6 0.35"/>
</g>
<rect x="74.55" y="16.5" width="316.95" height="381.85" fill="none" stroke="#000" stroke-width="1"/>
<rect x="82.5" y="22.45" width="109.4" height="87.05" fill="#fff" stroke="#000" stroke-width="1"/>
<text x="138.1" y="33" font-size="12.3" text-anchor="end" textLength="28.8" lengthAdjust="spacingAndGlyphs">QMC</text>
<text x="138.1" y="48" font-size="12.3" text-anchor="end" textLength="32.4" lengthAdjust="spacingAndGlyphs">KSDT</text>
<text x="138.1" y="63" font-size="12.3" text-anchor="end" textLength="46.0" lengthAdjust="spacingAndGlyphs">Ebeling</text>
<text x="138.1" y="77" font-size="12.3" text-anchor="end" textLength="30.0" lengthAdjust="spacingAndGlyphs">STLS</text>
<text x="138.1" y="92" font-size="12.3" text-anchor="end" textLength="16.4" lengthAdjust="spacingAndGlyphs">VS</text>
<text x="138.1" y="106" font-size="12.3" text-anchor="end" textLength="29.0" lengthAdjust="spacingAndGlyphs">PDW</text>
<rect x="161.65" y="26.25" width="6.7" height="6.7" fill="none" stroke="#ff0000" stroke-width="1"/>
<path d="M145.7 44.1H184.3" fill="none" stroke="#00bc22" stroke-width="1" stroke-dasharray="4.3 0.9 0.9 0.9 0.9 1.14"/>
<path d="M145.7 58.4H184.3" fill="none" stroke="#0000e8" stroke-width="1" stroke-dasharray="1.15 0.85"/>
<path d="M145.7 73.05H184.3" fill="none" stroke="#000000" stroke-width="1"/>
<path d="M145.7 87.4H184.3" fill="none" stroke="#ff9a10" stroke-width="1" stroke-dasharray="4.3 0.9 0.9 0.9 0.9 1.14"/>
<path d="M145.7 102.1H184.3" fill="none" stroke="#00c8d4" stroke-width="1" stroke-dasharray="4.4 0.8 1.0 0.8"/>
<g font-size="15.2"><text x="85.5" y="134" textLength="6.1" lengthAdjust="spacingAndGlyphs">r</text><text x="92.4" y="137" font-size="12.2" textLength="7.2" lengthAdjust="spacingAndGlyphs">s</text><text x="99.4" y="134" textLength="13" lengthAdjust="spacingAndGlyphs">=</text><text x="112.7" y="134" font-size="16.8" textLength="10.7" lengthAdjust="spacingAndGlyphs">6</text></g>
</svg></body></html>
